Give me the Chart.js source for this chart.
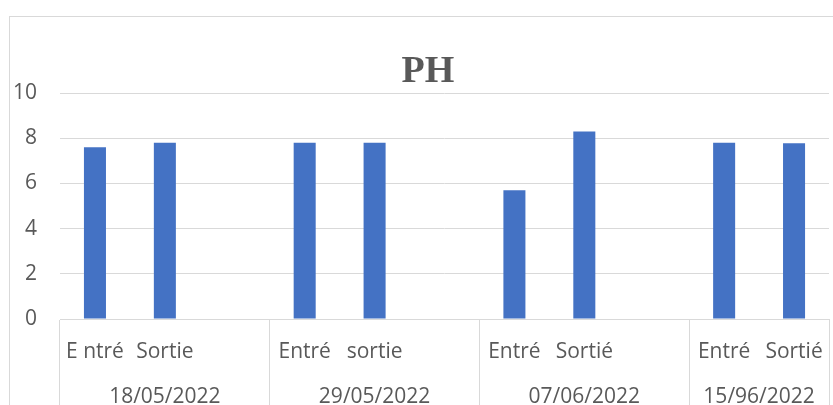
<!DOCTYPE html>
<html>
<head>
<meta charset="utf-8">
<script src="https://cdn.jsdelivr.net/npm/chart.js@4"></script>
<style>
    body { margin: 0; background: #fff; }
    #wrap { position: relative; width: 833px; height: 405px; overflow: hidden; }
    #frame { position: absolute; left: 9px; top: 16px; width: 900px; height: 500px;
             border-top: 1px solid #d9d9d9; border-left: 1px solid #d9d9d9; pointer-events: none; }
    #title { position: absolute; left: 0; top: 50px; width: 856px; text-align: center;
             font: bold 38px 'Liberation Serif', 'Times New Roman', serif; line-height: 1; color: #595959; }
</style>
</head>
<body>
<div id="wrap">
    <div id="frame"></div>
    <div id="title">PH</div>
    <canvas id="phChart"></canvas>
</div>
<script>
/* PH — entrée / sortie par date de prélèvement */

// ── Data ──────────────────────────────────────────────────────────────────
const subLabels  = ['E ntré', 'Sortie', '', 'Entré', 'sortie', '', 'Entré', 'Sortié', '', 'Entré', 'Sortié'];
const phValues   = [7.6, 7.8, null, 7.8, 7.8, null, 5.7, 8.3, null, 7.8, 7.78];
const dateLabels = ['18/05/2022', '29/05/2022', '07/06/2022', '15/96/2022'];
const dateCenter = [1, 4, 7, 9.5];        // middle of each date group, in category units
const groupStart = [0, 3, 6, 9];          // first category of each date group
const yTicks     = [0, 2, 4, 6, 8, 10];

const GRID = '#d9d9d9';
const TEXT = '#595959';
const FONT = { family: "'Open Sans', sans-serif", size: 21 };

// label rows sit under the axis but must not steal width from the plot
const noSidePadding = s => { s.paddingLeft = 0; s.paddingRight = 0; };

const ctx = document.getElementById('phChart').getContext('2d');

const phChart = new Chart(ctx, {
    type: 'bar',
    data: {
        labels: subLabels,
        datasets: [{
            label: 'PH',
            data: phValues,
            backgroundColor: '#4472c4',
            borderWidth: 0,
            barPercentage: 0.315,
            categoryPercentage: 1
        }]
    },
    options: {
        responsive: true,
        maintainAspectRatio: false,
        animation: false,
        layout: { padding: { left: 0, right: 4, top: 93, bottom: 0 } },
        plugins: {
            legend: { display: false },
            tooltip: { enabled: false }
        },
        scales: {
            y: {
                min: 0,
                max: 10,
                afterBuildTicks: s => { s.ticks = yTicks.map(v => ({ value: v })); },
                afterFit: s => { s.width = 60; },
                ticks: { color: TEXT, font: FONT, padding: 23 },
                grid: { color: GRID, drawTicks: false },
                border: { display: false }
            },
            // bars + group separators hanging below the axis
            x: {
                ticks: { display: false },
                grid: {
                    drawOnChartArea: false,
                    drawTicks: true,
                    tickLength: 86,
                    offset: true,
                    color: c => (c.type !== 'tick' || groupStart.includes(c.index)) ? GRID : 'rgba(0,0,0,0)'
                },
                border: { color: GRID }
            },
            // first label row: entrée / sortie
            xSub: {
                axis: 'x',
                type: 'category',
                position: { y: 0 },
                offset: true,
                afterFit: noSidePadding,
                ticks: { color: TEXT, font: FONT, padding: 20, autoSkip: false, maxRotation: 0 },
                grid: { display: false, drawTicks: false },
                border: { display: false }
            },
            // second label row: dates
            xDate: {
                axis: 'x',
                type: 'linear',
                position: { y: 0 },
                min: -0.5,
                max: 10.5,
                offset: false,
                afterBuildTicks: s => { s.ticks = dateCenter.map(v => ({ value: v })); },
                afterFit: noSidePadding,
                ticks: {
                    color: TEXT, font: FONT, padding: 65, autoSkip: false, maxRotation: 0,
                    callback: (v, i) => dateLabels[i]
                },
                grid: { display: false, drawTicks: false },
                border: { display: false }
            }
        }
    }
});
</script>
</body>
</html>
